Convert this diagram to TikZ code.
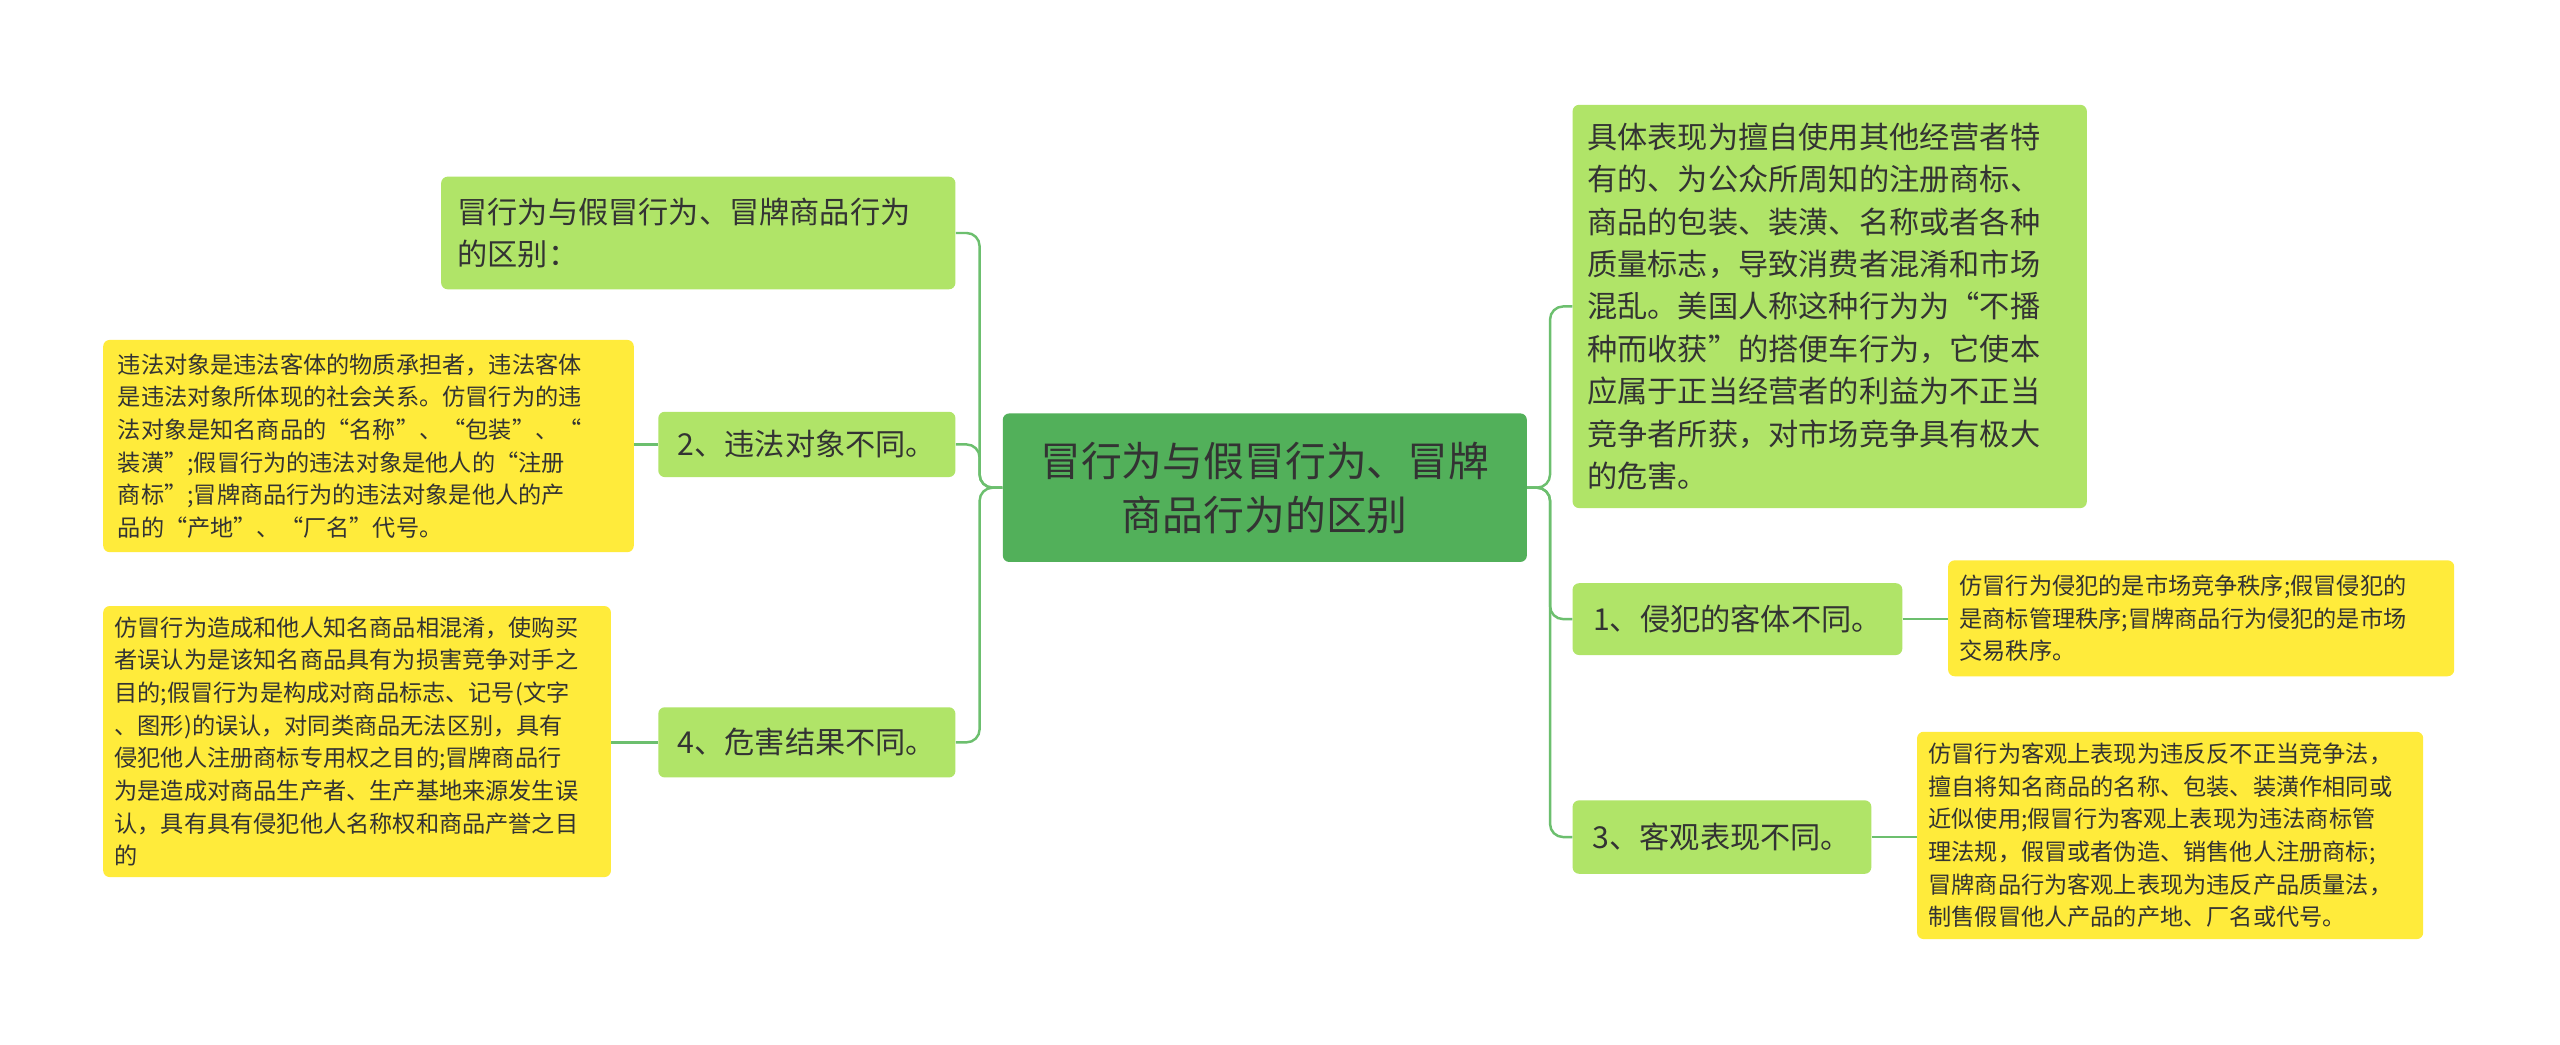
\documentclass[tikz,border=0pt]{standalone}
\usepackage{fontspec}
\setmainfont{Noto Sans CJK SC}
\begin{document}
\begin{tikzpicture}[x=1pt,y=-1pt,
  box/.style={rounded corners=4pt,inner sep=0pt,anchor=north west},
  root/.style={box,fill=rootg,text=txt,font=\fontsize{25}{33}\selectfont,align=center},
  br/.style={box,fill=brg,text=txt,font=\fontsize{18.5}{26}\selectfont,align=left},
  leaf/.style={box,fill=leafy,text=txt,font=\fontsize{14.2}{20}\selectfont,align=left},
  link/.style={draw=lineg,line width=1.5pt,rounded corners=8pt}]
\definecolor{rootg}{HTML}{52B05A}
\definecolor{brg}{HTML}{B0E468}
\definecolor{leafy}{HTML}{FFEB3B}
\definecolor{lineg}{HTML}{6CBF6E}
\definecolor{txt}{HTML}{333333}
\useasboundingbox[fill=white] (0,0) rectangle (1568,640);
% root
\node[root,minimum width=321pt,minimum height=91pt] (c) at (614,253) {冒行为与假冒行为、冒牌\\商品行为的区别};
% left branches
\node[br,minimum width=315pt,minimum height=69pt,text width=295pt] (l1) at (270,108) {冒行为与假冒行为、冒牌商品行为\\的区别：};
\node[br,minimum width=182pt,minimum height=40pt,align=center] (l2) at (403,252) {2、违法对象不同。};
\node[br,minimum width=182pt,minimum height=43pt,align=center] (l3) at (403,433) {4、危害结果不同。};
\node[leaf,minimum width=325pt,minimum height=130pt,text width=307pt] (ll2) at (63,208) {违法对象是违法客体的物质承担者，违法客体\\是违法对象所体现的社会关系。仿冒行为的违\\法对象是知名商品的“名称”、“包装”、“\\装潢”;假冒行为的违法对象是他人的“注册\\商标”;冒牌商品行为的违法对象是他人的产\\品的“产地”、“厂名”代号。};
\node[leaf,minimum width=311pt,minimum height=166pt,text width=297pt] (ll3) at (63,371) {仿冒行为造成和他人知名商品相混淆，使购买\\者误认为是该知名商品具有为损害竞争对手之\\目的;假冒行为是构成对商品标志、记号(文字\\、图形)的误认，对同类商品无法区别，具有\\侵犯他人注册商标专用权之目的;冒牌商品行\\为是造成对商品生产者、生产基地来源发生误\\认，具有具有侵犯他人名称权和商品产誉之目\\的};
% right branches
\node[br,minimum width=315pt,minimum height=247pt,text width=297pt] (r1) at (963,64) {具体表现为擅自使用其他经营者特\\有的、为公众所周知的注册商标、\\商品的包装、装潢、名称或者各种\\质量标志，导致消费者混淆和市场\\混乱。美国人称这种行为为“不播\\种而收获”的搭便车行为，它使本\\应属于正当经营者的利益为不正当\\竞争者所获，对市场竞争具有极大\\的危害。};
\node[br,minimum width=202pt,minimum height=44pt,align=center] (r2) at (963,357) {1、侵犯的客体不同。};
\node[br,minimum width=183pt,minimum height=45pt,align=center] (r3) at (963,490) {3、客观表现不同。};
\node[leaf,minimum width=310pt,minimum height=71pt,text width=296pt] (rl2) at (1193,343) {仿冒行为侵犯的是市场竞争秩序;假冒侵犯的\\是商标管理秩序;冒牌商品行为侵犯的是市场\\交易秩序。};
\node[leaf,minimum width=310pt,minimum height=127pt,text width=296pt] (rl3) at (1174,448) {仿冒行为客观上表现为违反反不正当竞争法，\\擅自将知名商品的名称、包装、装潢作相同或\\近似使用;假冒行为客观上表现为违法商标管\\理法规，假冒或者伪造、销售他人注册商标;\\冒牌商品行为客观上表现为违反产品质量法，\\制售假冒他人产品的产地、厂名或代号。};
% connectors
\foreach \b in {l1,l2,l3} \draw[link] (c.west) -- ++(-14,0) |- (\b.east);
\foreach \b in {r1,r2,r3} \draw[link] (c.east) -- ++(14,0) |- (\b.west);
\draw[link] (l2.west) -- (ll2.east|-l2.west);
\draw[link] (l3.west) -- (ll3.east|-l3.west);
\draw[link] (r2.east) -- (rl2.west|-r2.east);
\draw[link] (r3.east) -- (rl3.west|-r3.east);
\end{tikzpicture}
\end{document}
